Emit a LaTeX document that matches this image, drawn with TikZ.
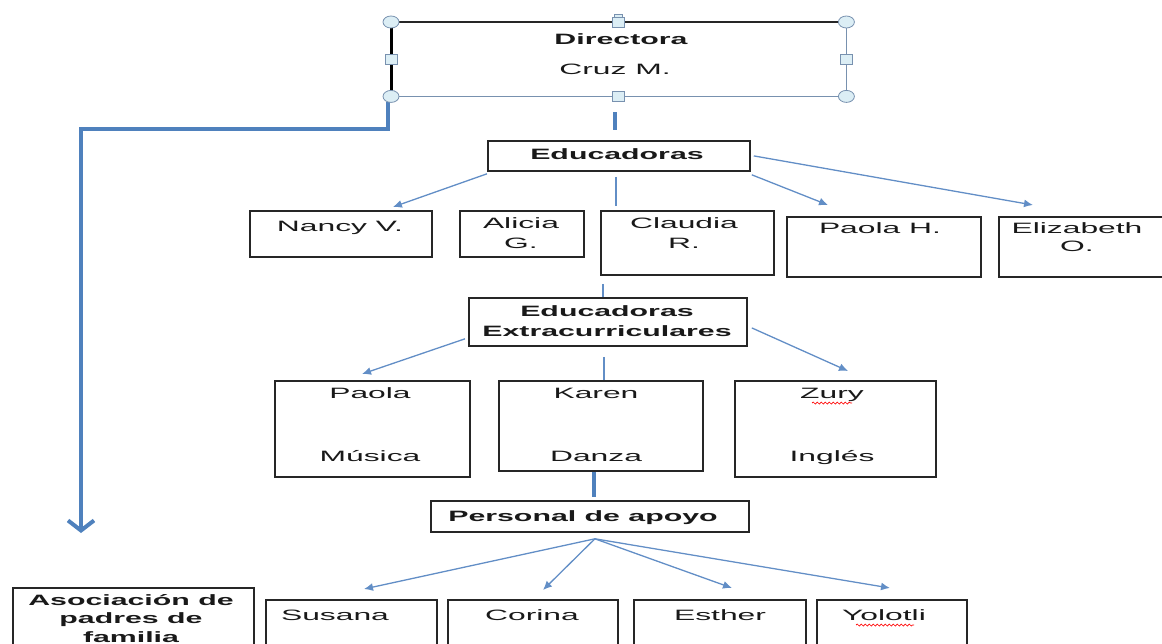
\documentclass[tikz,border=0pt]{standalone}
\usepackage{fontspec}
\setmainfont{Liberation Sans}[FakeStretch=2.12,BoldFeatures={FakeStretch=2.02}]
\usetikzlibrary{arrows.meta,calc,decorations.pathmorphing}
\definecolor{lnblue}{RGB}{79,129,189}
\definecolor{thinblue}{RGB}{98,142,198}
\definecolor{hfill}{RGB}{220,238,245}
\definecolor{hdraw}{RGB}{120,145,175}
\begin{document}
\begin{tikzpicture}[x=1pt,y=-1pt,
  box/.style={draw=black!85,line width=1.8pt,anchor=north west,inner sep=0pt,fill=white},
  txt/.style={font=\fontsize{15}{18}\selectfont,inner sep=0pt,anchor=base,text=black!90},
  btxt/.style={txt,font=\fontsize{15}{18}\selectfont\bfseries},
  arr/.style={thinblue,line width=1.3pt,-{Latex[length=9pt,width=8pt]}},
  ln/.style={thinblue,line width=1.8pt},
  fatline/.style={lnblue,line width=4pt},
  hsq/.style={draw=hdraw,fill=hfill,line width=0.8pt,minimum width=12pt,minimum height=10pt,inner sep=0pt},
  squig/.style={red,line width=0.7pt,decorate,decoration={snake,amplitude=1pt,segment length=4pt}}]
\useasboundingbox (0,0) rectangle (1162,643);
\clip (0,0) rectangle (1162,643);

% Director box
\node[anchor=north west,inner sep=0pt,minimum width=455pt,minimum height=74pt] (dir) at (391,22) {};
\draw[black!85,line width=2pt] (dir.north west) -- (dir.north east);
\draw[black,line width=3pt] (dir.north west) -- (dir.south west);
\draw[hdraw,line width=1.5pt] (dir.north east) -- (dir.south east) -- (dir.south west);
\node[btxt] (dirT) at (621,44) {Directora};
\node[txt] (dirN) at (615,74) {Cruz M.};

% elbow connector to Asociacion
\coordinate (elbow) at (81,129);
\coordinate (asocEnd) at (81,533);
\draw[fatline,-{Straight Barb[length=10pt,width=26pt]}] ($(dir.south west)+(-3,6)$) |- (elbow) -- (asocEnd);

% handles
\foreach \p in {north west,north east,south west,south east}
  \draw[hdraw,fill=hfill,line width=0.8pt] (dir.\p) ellipse (8pt and 6pt);
\draw[hdraw,fill=hfill,line width=0.8pt] ($(dir.north)+(-4,-8)$) rectangle ($(dir.north)+(4,-4)$);
\node[hsq] (hN) at (dir.north) {};
\node[hsq] (hS) at (dir.south) {};
\node[hsq] (hW) at (dir.west) {};
\node[hsq] (hE) at (dir.east) {};

% Educadoras
\node[box,minimum width=262pt,minimum height=30pt] (educ) at (487,140) {};
\node[btxt] (educT) at (617,159) {Educadoras};
\draw[fatline] ($(dir.south |- educ.north)+(-4,-28)$) -- ($(dir.south |- educ.north)+(-4,-10)$);

\node[box,minimum width=182pt,minimum height=46pt] (nancy) at (249,210) {};
\node[txt] (nancyT) at (340,231) {Nancy V.};
\node[box,minimum width=124pt,minimum height=46pt] (alicia) at (459,210) {};
\node[txt,align=center] (aliciaT) at (521,248) {Alicia\\[2pt]G.};
\node[box,minimum width=173pt,minimum height=64pt] (claudia) at (600,210) {};
\node[txt,align=center] (claudiaT) at (684,248) {Claudia\\[2pt]R.};
\node[box,minimum width=194pt,minimum height=60pt] (paolah) at (786,216) {};
\node[txt] (paolahT) at (880,233) {Paola H.};
\node[box,minimum width=180pt,minimum height=60pt] (eliz) at (998,216) {};
\node[txt,align=center] (elizT) at (1077,251) {Elizabeth\\[0pt]O.};

\draw[arr] ($(educ.south west)+(0,2)$) -- ($(nancy.north)+(52,-3)$);
\draw[ln] ($(educ.south)+(-3,5)$) -- ($(educ.south |- claudia.north)+(-3,-4)$);
\draw[arr] ($(educ.south east)+(1,3)$) -- ($(paolah.north west)+(42,-11)$);
\draw[arr] ($(educ.east)+(3,0)$) -- ($(eliz.north west)+(35,-11)$);

% Extracurriculares
\node[box,minimum width=278pt,minimum height=48pt] (extra) at (468,297) {};
\node[btxt,align=center] (extraT) at (607,336) {Educadoras\\[2pt]Extracurriculares};
\draw[ln] ($(claudia.south west)+(3,8)$) -- ($(claudia.south west |- extra.north)+(3,0)$);

\node[box,minimum width=195pt,minimum height=96pt] (paola) at (274,380) {};
\node[txt] (paolaT) at (370,398) {Paola};
\node[txt] (paolaS) at (370,461) {Música};
\node[box,minimum width=204pt,minimum height=90pt] (karen) at (498,380) {};
\node[txt] (karenT) at (596,398) {Karen};
\node[txt] (karenS) at (596,461) {Danza};
\node[box,minimum width=201pt,minimum height=96pt] (zury) at (734,380) {};
\node[txt] (zuryT) at (832,398) {Zury};
\node[txt] (zuryS) at (832,461) {Inglés};
\draw[squig] (812,403) -- (852,403);

\draw[arr] ($(extra.south west)+(-3,-8)$) -- ($(paola.north west)+(88,-6)$);
\draw[ln] ($(extra.south)+(-4,10)$) -- ($(extra.south |- karen.north)+(-4,0)$);
\draw[arr] ($(extra.east)+(4,6)$) -- ($(zury.north west)+(114,-9)$);

% Personal de apoyo
\node[box,minimum width=318pt,minimum height=31pt] (pers) at (430,500) {};
\node[btxt] (persT) at (583,521) {Personal de apoyo};
\draw[fatline] ($(karen.south)+(-7,0)$) -- ($(karen.south |- pers.north)+(-7,-3)$);

\node[box,minimum width=241pt,minimum height=100pt] (asoc) at (12,587) {};
\node[btxt,align=center] (asocT) at (131,642) {Asociación de\\[0pt]padres de\\[1pt]familia};
\node[box,minimum width=171pt,minimum height=80pt] (susana) at (265,599) {};
\node[txt] (susanaT) at (335,620) {Susana};
\node[box,minimum width=170pt,minimum height=80pt] (corina) at (447,599) {};
\node[txt] (corinaT) at (532,620) {Corina};
\node[box,minimum width=172pt,minimum height=80pt] (esther) at (633,599) {};
\node[txt] (estherT) at (720,620) {Esther};
\node[box,minimum width=150pt,minimum height=80pt] (yol) at (816,599) {};
\node[txt] (yolT) at (884,620) {Yolotli};
\draw[squig] (856,625) -- (914,625);

\draw[arr] ($(pers.south)+(5,6)$) -- ($(susana.north west)+(99,-10)$);
\draw[arr] ($(pers.south)+(5,6)$) -- ($(corina.north west)+(96,-9)$);
\draw[arr] ($(pers.south)+(5,6)$) -- ($(esther.north west)+(99,-11)$);
\draw[arr] ($(pers.south)+(5,6)$) -- ($(yol.north west)+(74,-11)$);
\end{tikzpicture}
\end{document}
